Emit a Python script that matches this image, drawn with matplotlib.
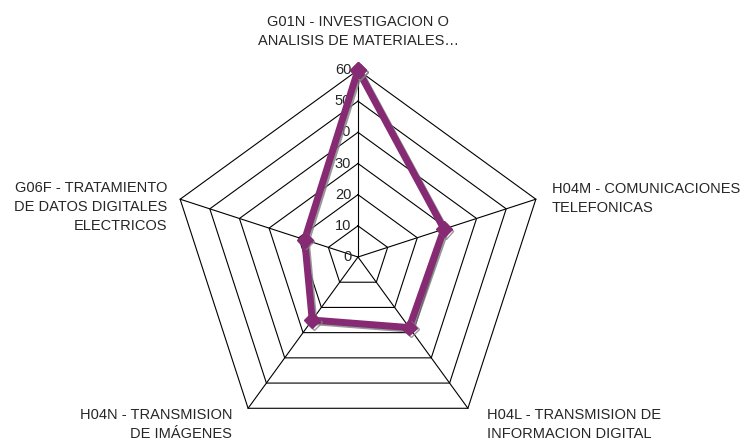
import matplotlib
matplotlib.use('Agg')
import matplotlib.pyplot as plt
import matplotlib.patheffects as pe
import numpy as np

plt.rcParams['font.family'] = ['Liberation Sans', 'DejaVu Sans']

categories = [
    'G01N - INVESTIGACION O\nANALISIS DE MATERIALES…',
    'H04M - COMUNICACIONES\nTELEFONICAS',
    'H04L - TRANSMISION DE\nINFORMACION DIGITAL',
    'H04N - TRANSMISION\nDE IMÁGENES',
    'G06F - TRATAMIENTO\nDE DATOS DIGITALES\nELECTRICOS',
]
values = [60, 29, 28, 25, 18]
ring_levels = [0, 10, 20, 30, 40, 50, 60]

purple = '#862a74'
text_color = '#262626'

n = len(categories)
# first axis points straight up, going clockwise
angles = np.pi / 2 - np.arange(n) * 2 * np.pi / n

fig = plt.figure(figsize=(7.44, 4.4), dpi=100)
ax = fig.add_axes([0, 0, 1, 1])
scale = 187 / 60.0  # pixels per unit
cx, cy = 358, 257
ax.set_xlim(-cx / scale, (744 - cx) / scale)
ax.set_ylim(-(440 - cy) / scale, cy / scale)
ax.set_aspect('equal')
ax.axis('off')

# pentagon grid
for lvl in ring_levels[1:]:
    xs = lvl * np.cos(np.append(angles, angles[0]))
    ys = lvl * np.sin(np.append(angles, angles[0]))
    ax.plot(xs, ys, color='black', lw=0.8, zorder=1)

rmax = ring_levels[-1]
for a in angles:
    ax.plot([0, rmax * np.cos(a)], [0, rmax * np.sin(a)], color='black', lw=0.8, zorder=1)

# radial tick labels along the top axis
for lvl in ring_levels:
    ax.text(-2.2, lvl, str(lvl), ha='right', va='center', fontsize=10.5, color=text_color)

# data line
vx = np.array(values) * np.cos(angles)
vy = np.array(values) * np.sin(angles)
ax.plot(np.append(vx, vx[0]), np.append(vy, vy[0]), color=purple, lw=5,
        marker='D', markersize=8, solid_joinstyle='miter', zorder=3,
        path_effects=[pe.SimpleLineShadow(offset=(1.2, -1.2), shadow_color='#808080', alpha=0.8),
                      pe.Normal()])

# category labels
label_pos = [
    (0, 72.5, 'center', 'center'),
    (62.2, 18.8, 'left', 'center'),
    (41.4, -48.4, 'left', 'top'),
    (-40.4, -48.4, 'right', 'top'),
    (-61.3, 16, 'right', 'center'),
]
for lab, (x, y, ha, va) in zip(categories, label_pos):
    ax.text(x, y, lab, ha=ha, va=va, fontsize=10.5, color=text_color, linespacing=1.45,
            multialignment=ha)

fig.savefig('out.png', dpi=100)
